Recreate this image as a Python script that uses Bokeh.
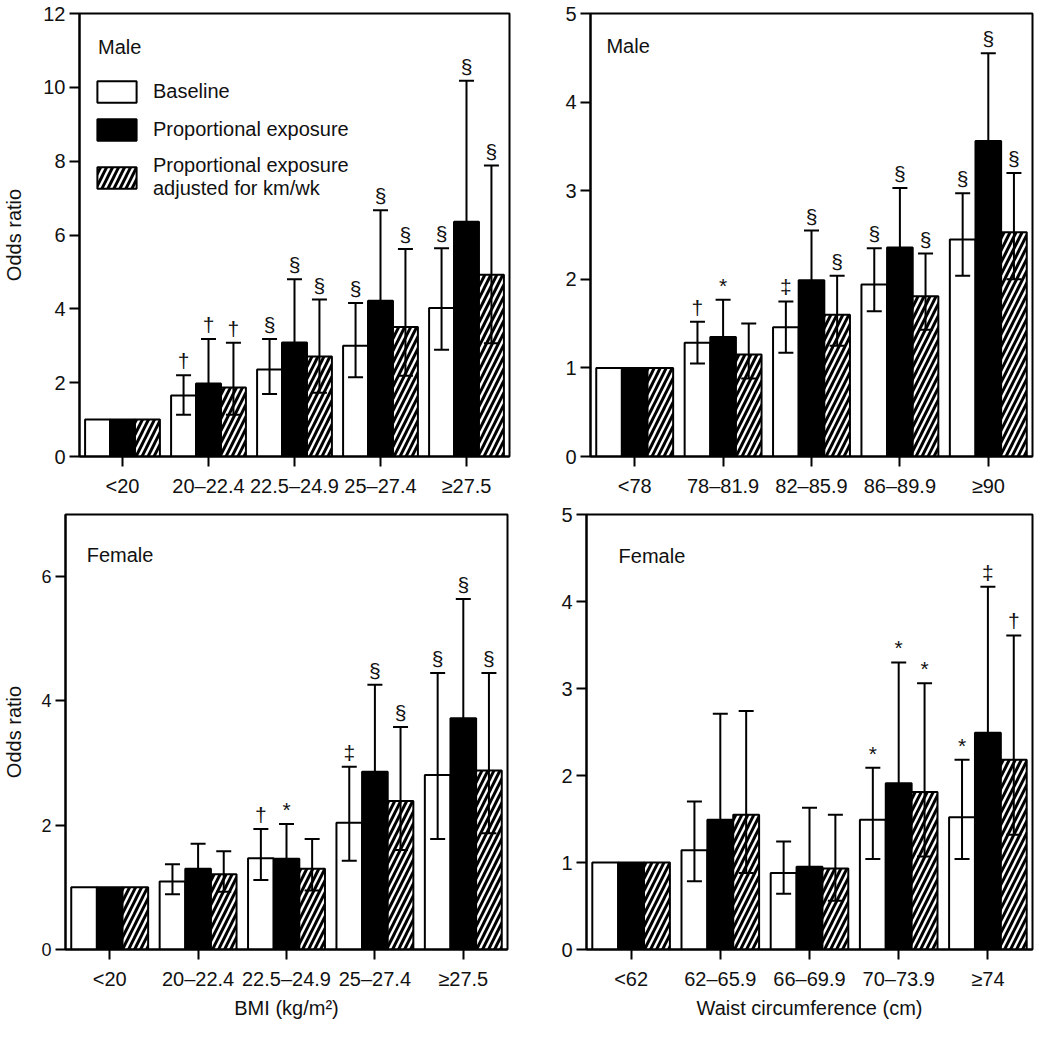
from bokeh.plotting import figure
from bokeh.models import (ColumnDataSource, FactorRange, Range1d, Whisker, TeeHead,
                          Label, Legend, LegendItem, FixedTicker)
from bokeh.transform import dodge
from bokeh.layouts import row, column
from bokeh.embed import file_html
from bokeh.resources import INLINE
from bokeh.core.properties import value

FONT = "Liberation Sans"
INK = "#111111"

# ---------------- data ----------------
series_names = ["Baseline", "Proportional exposure", "Proportional exposure\nadjusted for km/wk"]

# Male, BMI
bmi_cats = ["<20", "20–22.4", "22.5–24.9", "25–27.4", "≥27.5"]
m_bmi_base = [1.0, 1.65, 2.36, 3.00, 4.02]
m_bmi_base_lo = [None, 1.13, 1.69, 2.15, 2.89]
m_bmi_base_hi = [None, 2.20, 3.18, 4.16, 5.64]
m_bmi_base_sig = ["", "†", "§", "§", "§"]
m_bmi_prop = [1.0, 1.98, 3.09, 4.22, 6.36]
m_bmi_prop_lo = [None, 1.20, 2.00, 2.67, 3.97]
m_bmi_prop_hi = [None, 3.18, 4.80, 6.67, 10.18]
m_bmi_prop_sig = ["", "†", "§", "§", "§"]
m_bmi_adj = [1.0, 1.87, 2.71, 3.51, 4.92]
m_bmi_adj_lo = [None, 1.13, 1.73, 2.19, 3.07]
m_bmi_adj_hi = [None, 3.08, 4.25, 5.62, 7.88]
m_bmi_adj_sig = ["", "†", "§", "§", "§"]

# Male, waist
m_waist_cats = ["<78", "78–81.9", "82–85.9", "86–89.9", "≥90"]
m_w_base = [1.0, 1.285, 1.46, 1.94, 2.45]
m_w_base_lo = [None, 1.05, 1.17, 1.64, 2.04]
m_w_base_hi = [None, 1.52, 1.75, 2.35, 2.97]
m_w_base_sig = ["", "†", "‡", "§", "§"]
m_w_prop = [1.0, 1.35, 1.99, 2.36, 3.56]
m_w_prop_lo = [None, 1.03, 1.55, 1.84, 2.79]
m_w_prop_hi = [None, 1.77, 2.55, 3.03, 4.55]
m_w_prop_sig = ["", "*", "§", "§", "§"]
m_w_adj = [1.0, 1.15, 1.60, 1.81, 2.53]
m_w_adj_lo = [None, 0.88, 1.25, 1.43, 2.00]
m_w_adj_hi = [None, 1.50, 2.04, 2.29, 3.20]
m_w_adj_sig = ["", "", "§", "§", "§"]

# Female, BMI
f_bmi_base = [1.0, 1.095, 1.47, 2.04, 2.81]
f_bmi_base_lo = [None, 0.89, 1.12, 1.43, 1.78]
f_bmi_base_hi = [None, 1.37, 1.94, 2.94, 4.45]
f_bmi_base_sig = ["", "", "†", "‡", "§"]
f_bmi_prop = [1.0, 1.30, 1.46, 2.86, 3.72]
f_bmi_prop_lo = [None, 0.99, 1.05, 1.92, 2.45]
f_bmi_prop_hi = [None, 1.70, 2.02, 4.26, 5.64]
f_bmi_prop_sig = ["", "", "*", "§", "§"]
f_bmi_adj = [1.0, 1.21, 1.30, 2.39, 2.88]
f_bmi_adj_lo = [None, 0.93, 0.95, 1.60, 1.87]
f_bmi_adj_hi = [None, 1.58, 1.78, 3.58, 4.45]
f_bmi_adj_sig = ["", "", "", "§", "§"]

# Female, waist
f_waist_cats = ["<62", "62–65.9", "66–69.9", "70–73.9", "≥74"]
f_w_base = [1.0, 1.14, 0.88, 1.49, 1.52]
f_w_base_lo = [None, 0.785, 0.64, 1.04, 1.04]
f_w_base_hi = [None, 1.70, 1.24, 2.09, 2.18]
f_w_base_sig = ["", "", "", "*", "*"]
f_w_prop = [1.0, 1.49, 0.95, 1.91, 2.49]
f_w_prop_lo = [None, 0.82, 0.55, 1.10, 1.49]
f_w_prop_hi = [None, 2.71, 1.63, 3.30, 4.17]
f_w_prop_sig = ["", "", "", "*", "‡"]
f_w_adj = [1.0, 1.55, 0.93, 1.81, 2.18]
f_w_adj_lo = [None, 0.88, 0.56, 1.07, 1.32]
f_w_adj_hi = [None, 2.74, 1.55, 3.06, 3.61]
f_w_adj_sig = ["", "", "", "*", "†"]

# ---------------- styling ----------------
OFFSETS = [-0.29, 0.0, 0.29]
BAR_W = 0.29
STYLES = [
    dict(fill_color="white", line_color="black", line_width=2),
    dict(fill_color="black", line_color="black", line_width=2),
    dict(fill_color="white", line_color="black", line_width=2,
         hatch_pattern="/", hatch_color="black", hatch_weight=3, hatch_scale=12),
]


def make_panel(cats, series, ymax, yticks, width, height, mbl, mbr, mbt, mbb,
               sex, sex_xy, ylabel=None, xlabel=None, ytick_size="20px",
               ylabel_standoff=15, legend=None):
    p = figure(x_range=FactorRange(factors=cats, range_padding=0),
               y_range=Range1d(0, ymax), width=width, height=height,
               output_backend="svg", toolbar_location=None,
               min_border_left=mbl, min_border_right=mbr,
               min_border_top=mbt, min_border_bottom=mbb)
    p.xgrid.visible = False
    p.ygrid.visible = False
    p.outline_line_color = "black"
    p.outline_line_width = 2
    p.outline_line_alpha = 1

    renderers = []
    for k, (vals, lo, hi, sig) in enumerate(series):
        src = ColumnDataSource(dict(cat=cats, val=vals))
        r = p.vbar(x=dodge("cat", OFFSETS[k], range=p.x_range), top="val",
                   width=BAR_W, source=src, **STYLES[k])
        renderers.append(r)
        idx = [i for i in range(len(cats)) if lo[i] is not None]
        wsrc = ColumnDataSource(dict(cat=[cats[i] for i in idx],
                                     lo=[lo[i] for i in idx],
                                     hi=[hi[i] for i in idx]))
        w = Whisker(source=wsrc, base=dodge("cat", OFFSETS[k], range=p.x_range),
                    upper="hi", lower="lo", line_width=2, line_color="black",
                    level="overlay",
                    upper_head=TeeHead(size=15, line_width=2, line_color="black"),
                    lower_head=TeeHead(size=15, line_width=2, line_color="black"))
        p.add_layout(w)
        sidx = [i for i in idx if sig[i]]
        ssrc = ColumnDataSource(dict(cat=[cats[i] for i in sidx],
                                     hi=[hi[i] for i in sidx],
                                     sig=[sig[i] for i in sidx]))
        p.text(x=dodge("cat", OFFSETS[k], range=p.x_range), y="hi", text="sig",
               source=ssrc, text_align="center", text_baseline="bottom",
               y_offset=-3, text_font=value(FONT), text_font_size="21px",
               text_color=INK)

    for ax in (p.xaxis[0], p.yaxis[0]):
        ax.axis_line_width = 2
        ax.axis_line_color = "black"
        ax.major_tick_line_width = 2
        ax.major_tick_line_color = "black"
        ax.major_tick_out = 10
        ax.major_tick_in = 0
        ax.minor_tick_line_color = None
        ax.major_label_text_font = FONT
        ax.major_label_text_color = INK
        ax.axis_label_text_font = FONT
        ax.axis_label_text_font_style = "normal"
        ax.axis_label_text_font_size = "20px"
        ax.axis_label_text_color = INK
    p.xaxis.major_label_text_font_size = "20px"
    p.xaxis.major_label_standoff = 8
    p.yaxis.major_label_text_font_size = ytick_size
    p.yaxis.major_label_standoff = 4
    p.yaxis.ticker = FixedTicker(ticks=yticks)
    if ylabel:
        p.yaxis.axis_label = ylabel
        p.yaxis.axis_label_standoff = ylabel_standoff
    if xlabel:
        p.xaxis.axis_label = xlabel
        p.xaxis.axis_label_standoff = 4

    p.add_layout(Label(x=sex_xy[0], y=sex_xy[1], text=sex, text_font=FONT,
                       text_font_size="20px", text_color=INK,
                       text_baseline="middle", text_align="left"))

    if legend is not None:
        items = [LegendItem(label=series_names[k], renderers=[renderers[k]])
                 for k in range(3)]
        lg = Legend(items=items, location=legend, glyph_width=49, glyph_height=27,
                    spacing=11, padding=0, margin=0, label_standoff=12,
                    border_line_alpha=0, background_fill_alpha=0,
                    label_text_font=FONT, label_text_font_size="20px",
                    label_text_color=INK, label_height=27)
        p.add_layout(lg)
    return p


p1 = make_panel(bmi_cats,
                [(m_bmi_base, m_bmi_base_lo, m_bmi_base_hi, m_bmi_base_sig),
                 (m_bmi_prop, m_bmi_prop_lo, m_bmi_prop_hi, m_bmi_prop_sig),
                 (m_bmi_adj, m_bmi_adj_lo, m_bmi_adj_hi, m_bmi_adj_sig)],
                12, [0, 2, 4, 6, 8, 10, 12], 522, 502, 67, 13, 13, 46,
                "Male", (0.215, 11.1), ylabel="Odds ratio", legend=(13, 256))

p2 = make_panel(m_waist_cats,
                [(m_w_base, m_w_base_lo, m_w_base_hi, m_w_base_sig),
                 (m_w_prop, m_w_prop_lo, m_w_prop_hi, m_w_prop_sig),
                 (m_w_adj, m_w_adj_lo, m_w_adj_hi, m_w_adj_sig)],
                5, [0, 1, 2, 3, 4, 5], 512, 502, 68, 2, 13, 46,
                "Male", (0.18, 4.63))

p3 = make_panel(bmi_cats,
                [(f_bmi_base, f_bmi_base_lo, f_bmi_base_hi, f_bmi_base_sig),
                 (f_bmi_prop, f_bmi_prop_lo, f_bmi_prop_hi, f_bmi_prop_sig),
                 (f_bmi_adj, f_bmi_adj_lo, f_bmi_adj_hi, f_bmi_adj_sig)],
                7, [0, 2, 4, 6], 522, 524, 65, 15, 12, 77,
                "Female", (0.24, 6.35), ylabel="Odds ratio", xlabel="BMI (kg/m²)",
                ytick_size="18px", ylabel_standoff=13)

p4 = make_panel(f_waist_cats,
                [(f_w_base, f_w_base_lo, f_w_base_hi, f_w_base_sig),
                 (f_w_prop, f_w_prop_lo, f_w_prop_hi, f_w_prop_sig),
                 (f_w_adj, f_w_adj_lo, f_w_adj_hi, f_w_adj_sig)],
                5, [0, 1, 2, 3, 4, 5], 512, 524, 64, 2, 12, 77,
                "Female", (0.36, 4.52), xlabel="Waist circumference (cm)")

layout = column(row(p1, p2), row(p3, p4))
open("out.html", "w").write(file_html(layout, INLINE))
